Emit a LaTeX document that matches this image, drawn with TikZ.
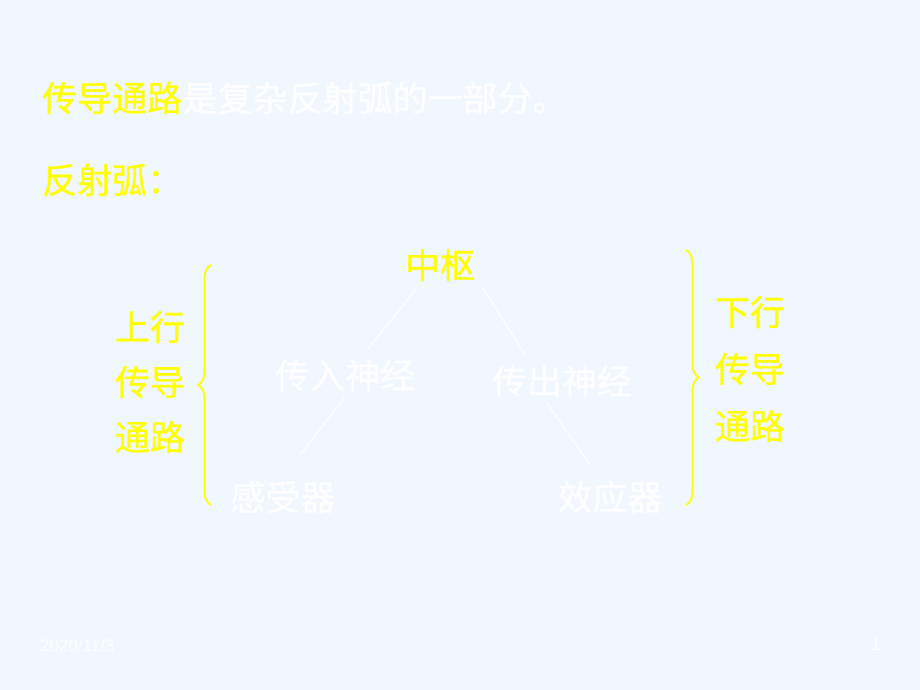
\documentclass[tikz,border=0pt]{standalone}
\usepackage{fontspec}
\setmainfont{Liberation Sans}
\newfontfamily\cjk[FakeBold=0.8]{Noto Sans CJK SC}
\usetikzlibrary{positioning}
\usetikzlibrary{calc}
\usetikzlibrary{decorations.pathreplacing}
\definecolor{bgblue}{RGB}{240,247,255}
\definecolor{ttyellow}{RGB}{255,255,0}

\begin{document}
\begin{tikzpicture}[x=1pt, y=-1pt,
	big/.style={font=\cjk\fontsize{35}{40}\selectfont, inner sep=0pt},
	gold/.style={big, text=ttyellow},
	pale/.style={big, text=white},
	link/.style={draw=white, line width=1.3pt},
	brace/.style={draw=ttyellow, line width=1.8pt, decorate, decoration={brace, amplitude=13pt}}]
\fill[bgblue] (0,0) rectangle (920,690);
\useasboundingbox (0,0) rectangle (920,690);
% heading
\node[gold, anchor=west] (t1) at (42,98) {传导通路};
\node[pale, right=0pt of t1] (t2) {是复杂反射弧的一部分。};
\node[gold, anchor=west] (arc) at (42,180) {反射弧：};
% the arc
\node[gold] (zhong) at (440,265) {中枢};
\node[pale] (chuanru) at (345,375) {传入神经};
\node[pale] (chuchu) at (562,381) {传出神经};
\node[pale] (gan) at (283,497) {感受器};
\node[pale] (xiao) at (610,497) {效应器};
\draw[link] ([shift={(17,-42)}]gan.center) -- ([shift={(0,22)}]chuanru.center);
\draw[link] ([shift={(22,-25)}]chuanru.center) -- ([shift={(-23,23)}]zhong.center);
\draw[link] ([shift={(43,23)}]zhong.center) -- ([shift={(-37,-26)}]chuchu.center);
\draw[link] ([shift={(-15,22)}]chuchu.center) -- ([shift={(-20,-32)}]xiao.center);
% braces and side labels
\coordinate (lbot) at (211,505);
\coordinate (ltop) at (211,265);
\coordinate (rtop) at (686,250);
\coordinate (rbot) at (686,505);
\draw[brace] (lbot) -- (ltop);
\draw[brace] (rtop) -- (rbot);
\foreach \w [count=\i] in {上行,传导,通路}
	\node[gold] (up\i) at (150,272+55*\i) {\w};
\foreach \w [count=\i] in {下行,传导,通路}
	\node[gold] (down\i) at (750,255+57*\i) {\w};
% footer
\node[text=white, font=\fontsize{17}{20}\selectfont, anchor=west, inner sep=0pt] (date) at (40,645) {2020/11/3};
\node[text=white, font=\fontsize{17}{20}\selectfont, inner sep=0pt] (page) at (876,645) {1};
\end{tikzpicture}
\end{document}
